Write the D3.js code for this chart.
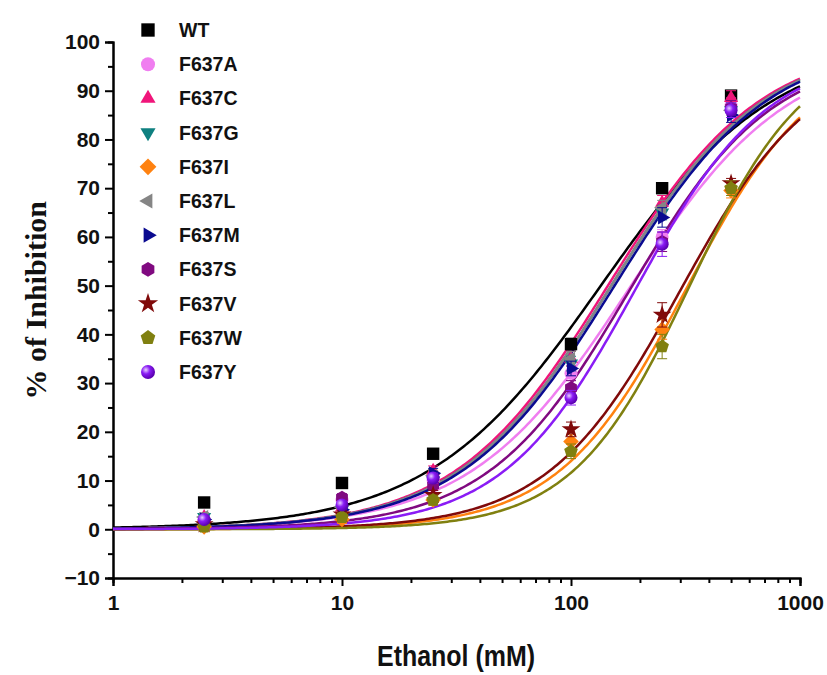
<!DOCTYPE html>
<html>
<head>
<meta charset="utf-8">
<script src="https://cdn.jsdelivr.net/npm/d3@7"></script>
<style>
  body { margin: 0; background: #fff; }
  svg text { font-family: "Liberation Sans", Arial, sans-serif; }
</style>
</head>
<body>
<svg id="chart" width="827" height="675"></svg>
<script>
// ---- data ----
const concentrations = [2.5, 10, 25, 100, 250, 500];
const seriesNames = ["WT", "F637A", "F637C", "F637G", "F637I", "F637L", "F637M", "F637S", "F637V", "F637W", "F637Y"];
const seriesColors = ["#000000", "#f07ef0", "#f0157a", "#0f8080", "#ff8210", "#858585", "#0a0a90", "#800a80", "#800a0a", "#808010", "#8a1cf5"];
const seriesShapes = ["square", "circle", "triangle", "triangleDown", "diamond", "triangleLeft", "triangleRight", "hexagon", "star", "pentagon", "sphere"];

const valWT = [5.5, 9.5, 15.5, 38, 70, 89];
const valA  = [2.0, 6.0, 10.0, 32, 60, 87];
const valC  = [2.5, 4.5, 12.0, 35, 67, 88.5];
const valG  = [2.5, 4.0, 10.0, 34, 65, 86];
const valI  = [0.5, 2.0, 6.0, 18, 41, 69.5];
const valL  = [2.5, 4.5, 11.0, 35, 66, 86];
const valM  = [2.0, 4.0, 11.5, 33, 64, 85];
const valS  = [1.5, 6.5, 9.0, 29, 59, 86.5];
const valV  = [1.0, 3.0, 7.0, 20.5, 44, 71];
const valW  = [0.5, 2.5, 6.0, 16, 37.5, 70];
const valY  = [2.0, 5.0, 10.5, 27, 58.5, 86];
const seriesValues = [valWT, valA, valC, valG, valI, valL, valM, valS, valV, valW, valY];

const errWT = [0.8, 0.8, 1.0, 1.2, 1.0, 1.0];
const errA  = [0.8, 0.8, 1.0, 1.5, 1.5, 1.5];
const errC  = [0.8, 0.8, 1.0, 1.5, 1.5, 1.5];
const errG  = [0.8, 0.8, 1.0, 1.5, 1.5, 1.5];
const errI  = [0.8, 0.8, 1.0, 1.5, 2.0, 1.5];
const errL  = [0.8, 0.8, 1.0, 1.5, 1.5, 1.5];
const errM  = [0.8, 0.8, 1.0, 1.5, 2.0, 1.5];
const errS  = [0.8, 0.8, 1.0, 1.5, 2.0, 1.5];
const errV  = [0.8, 0.8, 1.0, 1.5, 2.5, 1.0];
const errW  = [0.8, 0.8, 1.0, 1.5, 2.5, 1.5];
const errY  = [0.8, 0.8, 1.0, 1.5, 2.5, 1.5];
const seriesErrors = [errWT, errA, errC, errG, errI, errL, errM, errS, errV, errW, errY];

// fitted sigmoid parameters (bottom = 0)
const fitTop  = [100, 99, 100, 100, 99, 100, 100, 98, 98, 100, 98];
const fitEC50 = [135, 180, 145, 150, 320, 150, 155, 180, 300, 330, 190];
const fitHill = [1.15, 1.25, 1.3, 1.3, 1.55, 1.3, 1.3, 1.4, 1.5, 1.7, 1.5];

const yTicks = [-10, 0, 10, 20, 30, 40, 50, 60, 70, 80, 90, 100];
const xTicks = [1, 10, 100, 1000];

// ---- layout ----
const svg = d3.select("#chart");
const x = d3.scaleLog().domain([1, 1000]).range([113, 800]);
const y = d3.scaleLinear().domain([-10, 100]).range([578, 42]);

const defs = svg.append("defs");
const grad = defs.append("radialGradient").attr("id", "sphereGrad")
  .attr("cx", "35%").attr("cy", "35%").attr("r", "65%");
grad.append("stop").attr("offset", "0%").attr("stop-color", "#e8d0ff");
grad.append("stop").attr("offset", "45%").attr("stop-color", "#8a1cf5");
grad.append("stop").attr("offset", "100%").attr("stop-color", "#5a00b0");

function polygon(n, r, rot) {
  const pts = d3.range(n).map(i => {
    const a = rot + i * 2 * Math.PI / n;
    return [r * Math.cos(a), r * Math.sin(a)];
  });
  return "M" + pts.map(p => p.join(",")).join("L") + "Z";
}

function shapePath(shape, s) {
  const r = s / 2;
  switch (shape) {
    case "square": return polygon(4, r * 1.35, Math.PI / 4);
    case "circle": case "sphere": return d3.symbol(d3.symbolCircle, Math.PI * r * r)();
    case "triangle": return polygon(3, r * 1.25, -Math.PI / 2);
    case "triangleDown": return polygon(3, r * 1.25, Math.PI / 2);
    case "triangleLeft": return polygon(3, r * 1.25, Math.PI);
    case "triangleRight": return polygon(3, r * 1.25, 0);
    case "diamond": return polygon(4, r * 1.2, 0);
    case "hexagon": return polygon(6, r * 1.05, Math.PI / 2);
    case "pentagon": return polygon(5, r * 1.1, -Math.PI / 2);
    case "star": return d3.symbol(d3.symbolStar, r * r * 2.6)();
  }
}

function drawMarker(g, shape, color, size) {
  g.append("path")
    .attr("d", shapePath(shape, size))
    .attr("fill", shape === "sphere" ? "url(#sphereGrad)" : color);
}

// ---- axes ----
const yAxis = d3.axisLeft(y).tickValues(yTicks).tickSize(8).tickPadding(5).tickFormat(d3.format("d"));
const yMinor = d3.axisLeft(y).tickValues(d3.range(-5, 100, 10)).tickSize(5).tickFormat("");
const xAxis = d3.axisBottom(x).tickValues(xTicks).tickSize(8).tickPadding(9).tickFormat(d3.format("d"));
const xMinorVals = [];
[1, 10, 100].forEach(b => d3.range(2, 10).forEach(k => xMinorVals.push(b * k)));
const xMinor = d3.axisBottom(x).tickValues(xMinorVals).tickSize(5).tickFormat("");

function styleAxis(g) {
  g.selectAll("path.domain").attr("stroke", "#000").attr("stroke-width", 2);
  g.selectAll("line").attr("stroke", "#000").attr("stroke-width", 2);
  g.selectAll("text").attr("font-size", 21).attr("font-weight", "bold").attr("fill", "#111");
}

svg.append("g").attr("transform", `translate(${x(1)},0)`).call(yMinor).call(styleAxis);
svg.append("g").attr("transform", `translate(${x(1)},0)`).call(yAxis).call(styleAxis);
svg.append("g").attr("transform", `translate(0,${y(-10)})`).call(xMinor).call(styleAxis);
svg.append("g").attr("transform", `translate(0,${y(-10)})`).call(xAxis).call(styleAxis);

svg.append("text")
  .attr("transform", `translate(46,${y(47)}) rotate(-90)`)
  .attr("text-anchor", "middle")
  .style("font-family", "'Liberation Serif', 'Times New Roman', serif")
  .attr("font-size", 30).attr("font-weight", "bold").attr("fill", "#111")
  .text("% of Inhibition");

svg.append("text")
  .attr("x", 456).attr("y", 666)
  .attr("text-anchor", "middle")
  .attr("font-size", 29).attr("font-weight", "bold").attr("fill", "#111")
  .attr("textLength", 158).attr("lengthAdjust", "spacingAndGlyphs")
  .text("Ethanol (mM)");

// ---- fitted curves ----
const curveX = d3.range(0, 3.0001, 0.01).map(e => Math.pow(10, e));
const line = d3.line().x(d => x(d[0])).y(d => y(d[1])).curve(d3.curveLinear);
seriesNames.forEach((name, i) => {
  const pts = curveX.map(c => [c, fitTop[i] / (1 + Math.pow(fitEC50[i] / c, fitHill[i]))]);
  svg.append("path")
    .attr("d", line(pts))
    .attr("fill", "none")
    .attr("stroke", seriesColors[i])
    .attr("stroke-width", 2.5);
});

// ---- points with error bars ----
seriesNames.forEach((name, i) => {
  const g = svg.append("g");
  seriesValues[i].forEach((v, j) => {
    const cx = x(concentrations[j]);
    const e = seriesErrors[i][j];
    const eb = g.append("g").attr("stroke", seriesColors[i]).attr("stroke-width", 1);
    eb.append("line").attr("x1", cx).attr("x2", cx).attr("y1", y(v - e)).attr("y2", y(v + e));
    eb.append("line").attr("x1", cx - 5).attr("x2", cx + 5).attr("y1", y(v + e)).attr("y2", y(v + e));
    eb.append("line").attr("x1", cx - 5).attr("x2", cx + 5).attr("y1", y(v - e)).attr("y2", y(v - e));
    const mg = g.append("g").attr("transform", `translate(${cx},${y(v)})`);
    drawMarker(mg, seriesShapes[i], seriesColors[i], 13);
  });
});

// ---- legend ----
const legend = svg.append("g").attr("transform", "translate(148,30)");
seriesNames.forEach((name, i) => {
  const row = legend.append("g").attr("transform", `translate(0,${i * 34.2})`);
  drawMarker(row, seriesShapes[i], seriesColors[i], 14);
  row.append("text")
    .attr("x", 31).attr("y", 0).attr("dy", "0.36em")
    .attr("font-size", 19.5).attr("font-weight", "bold").attr("fill", "#111")
    .text(name);
});
</script>
</body>
</html>
